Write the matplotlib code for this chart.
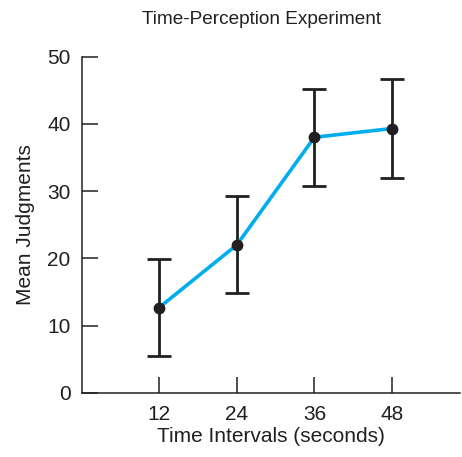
import matplotlib
matplotlib.use("Agg")
import matplotlib.pyplot as plt

# Time-perception experiment: mean judgments per interval with error bars
intervals = [12, 24, 36, 48]
mean_judgments = [12.7, 22.0, 38.0, 39.3]
error = [7.2, 7.2, 7.2, 7.3]
y_ticks = [0, 10, 20, 30, 40, 50]

ink = "#231f20"
line_blue = "#00aeef"

plt.rcParams["font.family"] = ["Liberation Sans", "DejaVu Sans"]

W, H = 462, 457
fig = plt.figure(figsize=(W / 100, H / 100), dpi=100)
left, right, bottom, top = 81.5, 460, 393, 56.5
ax = fig.add_axes([left / W, 1 - bottom / H, (right - left) / W, (bottom - top) / H])

ax.errorbar(intervals, mean_judgments, yerr=error, fmt="none",
            ecolor=ink, elinewidth=2.0, capsize=8.6, capthick=2.0, zorder=2)
ax.plot(intervals, mean_judgments, color=line_blue, lw=2.6, zorder=3)
ax.plot(intervals, mean_judgments, "o", color=ink, ms=7.5, zorder=4)

ax.set_xlim(0, 58.5)
ax.set_ylim(0, 50)
ax.set_xticks(intervals)
ax.set_xticklabels([str(v) for v in intervals])
ax.set_yticks(y_ticks)

for s in ("top", "right"):
    ax.spines[s].set_visible(False)
for s in ("left", "bottom"):
    ax.spines[s].set_color(ink)
    ax.spines[s].set_linewidth(1.1)

ax.tick_params(direction="in", length=11.5, width=1.1, color=ink,
               labelsize=15, labelcolor=ink)
ax.tick_params(axis="x", pad=9)
ax.tick_params(axis="y", pad=7.8)

ax.set_xlabel("Time Intervals (seconds)", fontsize=15, color=ink, labelpad=2)
ax.set_ylabel("Mean Judgments", fontsize=15, color=ink, labelpad=9)
fig.text(262 / W, 1 - 20 / H, "Time-Perception Experiment", fontsize=13.7,
         color=ink, ha="center", va="center")

fig.savefig("out.png", dpi=100)
